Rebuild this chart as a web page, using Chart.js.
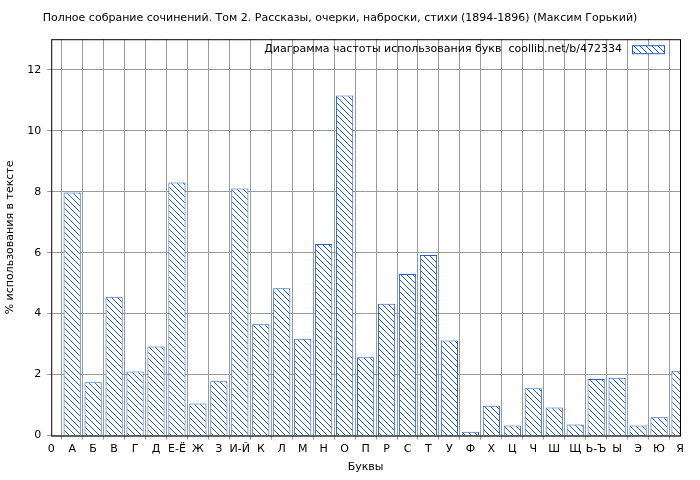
<!DOCTYPE html>
<html>
<head>
<meta charset="utf-8">
<script src="https://cdn.jsdelivr.net/npm/chart.js@4"></script>
<style>
  body { margin: 0; background: #fff; }
  #wrap { width: 700px; height: 480px; }
</style>
</head>
<body>
<div id="wrap"><canvas id="chart" width="700" height="480"></canvas></div>
<script>
const letters = ["0", "А", "Б", "В", "Г", "Д", "Е-Ё", "Ж", "З", "И-Й", "К", "Л", "М", "Н", "О", "П",
  "Р", "С", "Т", "У", "Ф", "Х", "Ц", "Ч", "Ш", "Щ", "Ь-Ъ", "Ы", "Э", "Ю", "Я"];
const percents = [7.97, 1.75, 4.55, 2.1, 2.92, 8.3, 1.05, 1.78, 8.1, 3.65, 4.83, 3.18, 6.28, 11.15, 2.57,
  4.32, 5.3, 5.92, 3.12, 0.13, 0.98, 0.33, 1.55, 0.92, 0.36, 1.86, 1.9, 0.33, 0.6, 2.13];
const yTicks = [0, 2, 4, 6, 8, 10, 12];
const legendText = "Диаграмма частоты использования букв  coollib.net/b/472334";
const titleText = "Полное собрание сочинений. Том 2. Рассказы, очерки, наброски, стихи (1894-1896) (Максим Горький)";

function makeHatch() {
  const c = document.createElement("canvas");
  c.width = 6; c.height = 6;
  const g = c.getContext("2d");
  g.fillStyle = "#fff";
  g.fillRect(0, 0, 6, 6);
  g.strokeStyle = "#1f5fd0";
  g.lineWidth = 1;
  g.beginPath();
  g.moveTo(0, 0); g.lineTo(6, 6);
  g.moveTo(-3, 3); g.lineTo(3, 9);
  g.moveTo(3, -3); g.lineTo(9, 3);
  g.stroke();
  return g.createPattern(c, "repeat");
}
const hatch = makeHatch();

const extras = {
  id: "extras",
  afterDraw(chart) {
    const { ctx, chartArea: a } = chart;
    ctx.save();
    ctx.strokeStyle = "#000";
    ctx.lineWidth = 1;
    ctx.strokeRect(a.left + 0.5, a.top + 0.5, a.right - a.left, a.bottom - a.top);
    ctx.font = "11px 'DejaVu Sans'";
    ctx.fillStyle = "#000";
    ctx.textAlign = "right";
    ctx.textBaseline = "middle";
    ctx.fillText(legendText, a.right - 58, a.top + 10);
    ctx.fillStyle = hatch;
    ctx.fillRect(a.right - 48, a.top + 6, 32, 8);
    ctx.strokeStyle = "#1f5fd0";
    ctx.strokeRect(a.right - 47.5, a.top + 6.5, 32, 8);
    ctx.restore();
  }
};

new Chart(document.getElementById("chart"), {
  type: "bar",
  data: {
    datasets: [{
      data: percents.map((v, i) => ({ x: i + 1, y: v })),
      backgroundColor: hatch,
      borderColor: "#1f5fd0",
      borderWidth: 1,
      barPercentage: 0.82,
      categoryPercentage: 1
    }]
  },
  options: {
    responsive: false,
    animation: false,
    layout: { padding: { left: 0, right: 20, top: 0, bottom: 2 } },
    plugins: {
      legend: { display: false },
      tooltip: { enabled: false },
      title: {
        display: true,
        text: titleText,
        color: "#000",
        font: { family: "DejaVu Sans", size: 11, weight: "normal" },
        padding: { top: 12, bottom: 14 }
      }
    },
    scales: {
      x: {
        type: "linear",
        min: 0, max: 30,
        offset: false,
        afterBuildTicks: (s) => { s.ticks = letters.map((_, i) => ({ value: i })); },
        ticks: {
          autoSkip: false, maxRotation: 0,
          color: "#000",
          font: { family: "DejaVu Sans", size: 11 },
          callback: (v) => letters[v]
        },
        grid: { color: "#999", borderDash: [1, 2], drawTicks: true, tickLength: 4 },
        border: { display: false },
        title: { display: true, text: "Буквы", color: "#000", font: { family: "DejaVu Sans", size: 11 }, padding: { top: 2 } }
      },
      y: {
        min: 0, max: 13,
        afterBuildTicks: (s) => { s.ticks = yTicks.map((v) => ({ value: v })); },
        ticks: { color: "#000", font: { family: "DejaVu Sans", size: 11 }, padding: 6 },
        grid: { color: "#999", borderDash: [1, 2], tickLength: 4 },
        border: { display: false },
        title: { display: true, text: "% использования в тексте", color: "#000", font: { family: "DejaVu Sans", size: 11 } }
      }
    }
  },
  plugins: [extras]
});
</script>
</body>
</html>
